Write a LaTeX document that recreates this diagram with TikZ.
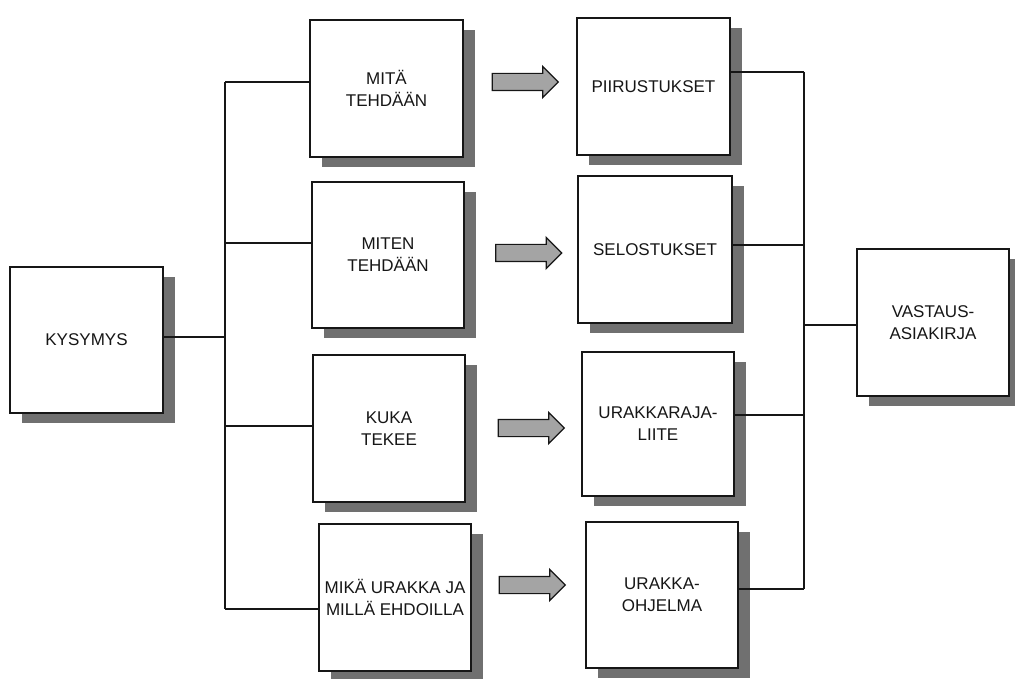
\documentclass[tikz,border=0pt]{standalone}
\usepackage{fontspec}
\setmainfont{Liberation Sans}
\usetikzlibrary{shadows,shapes.arrows}
\definecolor{shadowgray}{HTML}{707070}
\definecolor{arrowgray}{HTML}{A4A4A4}
\definecolor{ink}{HTML}{161616}
\tikzset{
  box/.style={rectangle, draw=ink, line width=1.6pt, fill=white, inner sep=0pt,
    minimum width=152pt, minimum height=146pt, align=center, text=ink,
    font=\fontsize{17}{22}\selectfont,
    drop shadow={shadow xshift=12pt, shadow yshift=-10pt, fill=shadowgray, opacity=1}},
  wire/.style={draw=ink, line width=1.5pt},
  blockarrow/.style={single arrow, draw=ink, line width=1.2pt, fill=arrowgray,
    inner xsep=0pt, inner ysep=8pt, minimum height=66pt,
    single arrow head extend=7pt, single arrow head indent=0pt}
}
\begin{document}
\begin{tikzpicture}[x=1pt,y=-1pt]
\useasboundingbox (0,0) rectangle (1015,679);

% question box
\node[box, minimum width=153pt] (k) at (86.5,340) {KYSYMYS};

% what is asked
\node[box, minimum width=153pt, minimum height=137pt] (l1) at (386.5,88.5) {MITÄ\\TEHDÄÄN};
\node[box] (l2) at (388,255) {MITEN\\TEHDÄÄN};
\node[box, minimum height=147pt] (l3) at (389,428.5) {KUKA\\TEKEE};
\node[box, minimum height=147pt] (l4) at (395,597.5) {MIKÄ URAKKA JA\\MILLÄ EHDOILLA};

% documents
\node[box, minimum width=153pt, minimum height=137pt] (r1) at (653.5,86.5) {PIIRUSTUKSET};
\node[box, minimum width=154pt, minimum height=147pt] (r2) at (655,249.5) {SELOSTUKSET};
\node[box, minimum height=144pt] (r3) at (658,424) {URAKKARAJA-\\LIITE};
\node[box] (r4) at (662,595) {URAKKA-\\OHJELMA};

% answer box
\node[box, minimum height=147pt] (v) at (933,322.5) {VASTAUS-\\ASIAKIRJA};

% block arrows
\node[blockarrow] (a1) at (521,82) {};
\node[blockarrow] (a2) at (524.5,253) {};
\node[blockarrow] (a3) at (527,428) {};
\node[blockarrow] (a4) at (528,585) {};

% left distribution bus
\coordinate (lt) at (225,82);
\coordinate (lb) at (225,609);
\coordinate (lk) at (225,337);
\coordinate (l2b) at (225,243);
\coordinate (l3b) at (225,426);
\draw[wire] (lt) -- (lb);
\draw[wire] (k.east |- lk) -- (lk);
\draw[wire] (lt) -- (lt -| l1.west);
\draw[wire] (l2b) -- (l2b -| l2.west);
\draw[wire] (l3b) -- (l3b -| l3.west);
\draw[wire] (lb) -- (lb -| l4.west);

% right collecting bus
\coordinate (rt) at (804,72);
\coordinate (rb) at (804,589);
\coordinate (rv) at (804,325);
\coordinate (r2b) at (804,245);
\coordinate (r3b) at (804,415);
\draw[wire] (rt) -- (rb);
\draw[wire] (rt -| r1.east) -- (rt);
\draw[wire] (r2b -| r2.east) -- (r2b);
\draw[wire] (r3b -| r3.east) -- (r3b);
\draw[wire] (rb -| r4.east) -- (rb);
\draw[wire] (rv) -- (rv -| v.west);
\end{tikzpicture}
\end{document}
